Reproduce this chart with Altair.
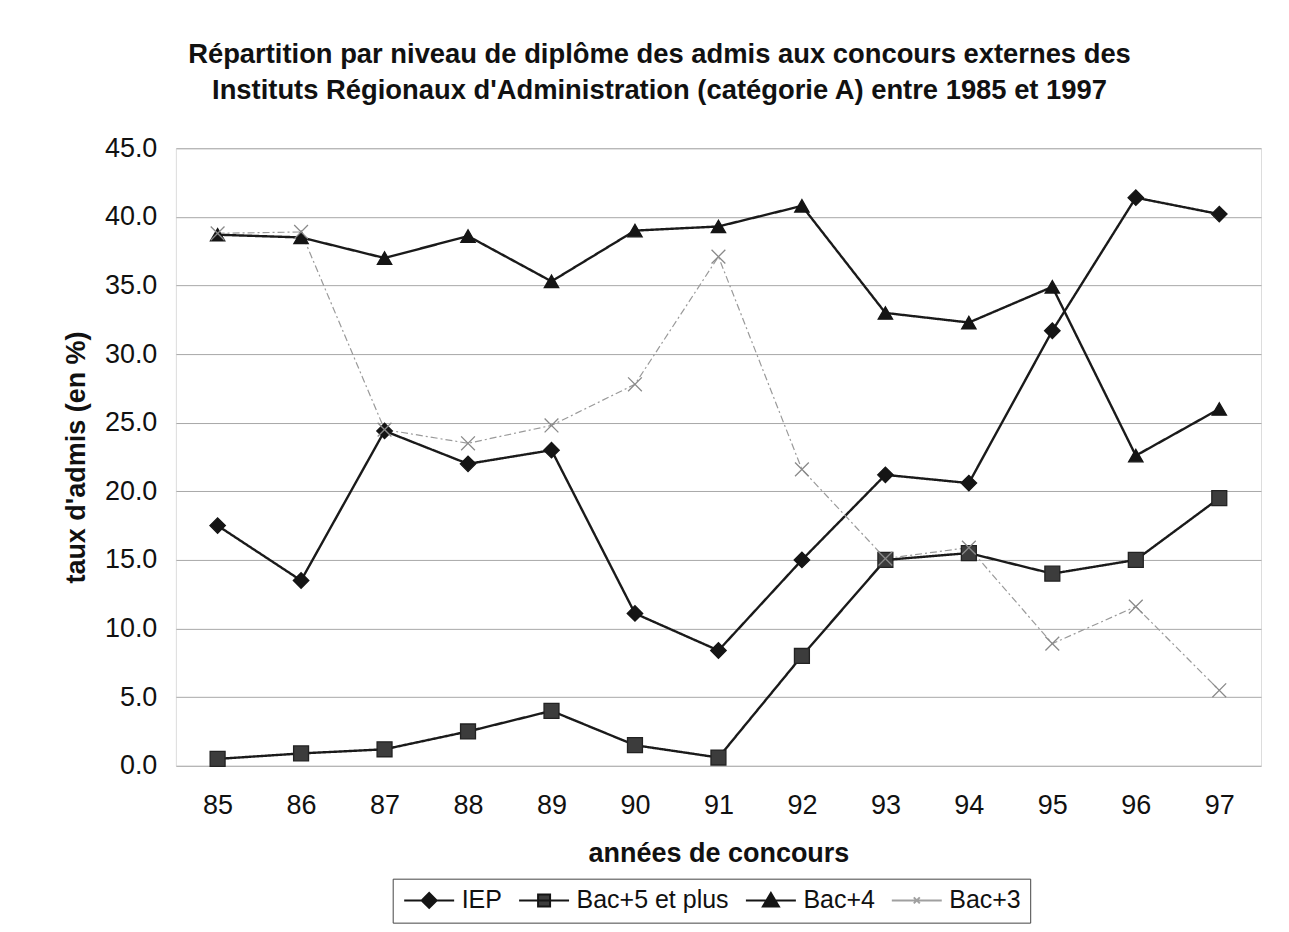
import altair as alt
import pandas as pd

years = ["85", "86", "87", "88", "89", "90", "91", "92", "93", "94", "95", "96", "97"]
series = ["IEP", "Bac+5 et plus", "Bac+4", "Bac+3"]
iep = [17.5, 13.5, 24.4, 22.0, 23.0, 11.1, 8.4, 15.0, 21.2, 20.6, 31.7, 41.4, 40.2]
bac5 = [0.5, 0.9, 1.2, 2.5, 4.0, 1.5, 0.6, 8.0, 15.0, 15.5, 14.0, 15.0, 19.5]
bac4 = [38.7, 38.5, 37.0, 38.6, 35.3, 39.0, 39.3, 40.8, 33.0, 32.3, 34.9, 22.6, 26.0]
bac3 = [38.8, 38.9, 24.5, 23.5, 24.8, 27.8, 37.1, 21.6, 15.1, 15.9, 8.9, 11.6, 5.5]

rows = []
for s, vals in zip(series, [iep, bac5, bac4, bac3]):
    for yr, v in zip(years, vals):
        rows.append({"annee": yr, "serie": s, "taux": v})
df = pd.DataFrame(rows)

FONT = "Liberation Sans"
TXT = "#111111"

x = alt.X(
    "annee:O",
    sort=years,
    title="années de concours",
    scale=alt.Scale(type="point", padding=0.5),
    axis=alt.Axis(labelAngle=0, labelFontSize=27, labelFont=FONT, labelColor=TXT,
                  labelPadding=27, ticks=False, domain=False, grid=False,
                  titleFontSize=27, titleFont=FONT, titleFontWeight="bold",
                  titleColor=TXT, titlePadding=22),
)
y = alt.Y(
    "taux:Q",
    title="taux d'admis (en %)",
    scale=alt.Scale(domain=[0, 45], nice=False),
    axis=alt.Axis(values=[0, 5, 10, 15, 20, 25, 30, 35, 40, 45], format=".1f",
                  labelFontSize=27, labelFont=FONT, labelColor=TXT, labelPadding=19,
                  ticks=False, domain=False, grid=True, gridColor="#a8a8a8",
                  gridWidth=1, titleFontSize=27, titleFont=FONT,
                  titleFontWeight="bold", titleColor=TXT, titlePadding=14),
)

is3 = alt.datum.serie == "Bac+3"
base = alt.Chart(df)

lines = base.mark_line().encode(
    x=x, y=y, detail="serie:N",
    stroke=alt.condition(is3, alt.value("#9a9a9a"), alt.value("#1a1a1a")),
    strokeWidth=alt.condition(is3, alt.value(1.2), alt.value(2.4)),
    strokeDash=alt.condition(is3, alt.value([7, 3, 2, 3]), alt.value([1, 0])),
)

points = base.mark_point(opacity=1, strokeWidth=1.3).encode(
    x=x, y=y,
    shape=alt.Shape("serie:N", legend=None, scale=alt.Scale(
        domain=series,
        range=["diamond", "square", "triangle-up", "M-1,-1L1,1M-1,1L1,-1"])),
    fill=alt.Fill("serie:N", legend=None, scale=alt.Scale(
        domain=series, range=["#151515", "#3c3c3c", "#151515", "transparent"])),
    stroke=alt.Stroke("serie:N", legend=None, scale=alt.Scale(
        domain=series, range=["#151515", "#222222", "#151515", "#8a8a8a"])),
    size=alt.Size("serie:N", legend=None, scale=alt.Scale(
        domain=series, range=[240, 190, 270, 150])),
)

leg_paths = [
    "M-1,0H4M1.5,-0.75L2.25,0L1.5,0.75L0.75,0Z",
    "M-1,0H4M0.9,-0.6H2.1V0.6H0.9Z",
    "M-1,0H4M1.5,-0.75L2.3,0.6H0.7Z",
    "M-1,0H4M1.2,-0.3L1.8,0.3M1.2,0.3L1.8,-0.3",
]


def make_legend():
    return alt.Legend(
        title=None, orient="none", legendX=217, legendY=731, direction="horizontal",
        columns=4, strokeColor="#444444", padding=9, labelFontSize=25,
        labelFont=FONT, labelColor=TXT, symbolSize=400, symbolStrokeWidth=2,
        labelOffset=35, columnPadding=12,
    )


legend_layer = base.transform_filter("false").mark_point(opacity=1).encode(
    x=x, y=y,
    shape=alt.Shape("serie:N", scale=alt.Scale(domain=series, range=leg_paths),
                    legend=make_legend()),
    fill=alt.Fill("serie:N", scale=alt.Scale(
        domain=series, range=["#151515", "#3c3c3c", "#151515", "transparent"]),
        legend=make_legend()),
    stroke=alt.Stroke("serie:N", scale=alt.Scale(
        domain=series, range=["#151515", "#151515", "#151515", "#a0a0a0"]),
        legend=make_legend()),
)

chart = alt.layer(lines, points, legend_layer).resolve_scale(
    shape="independent", fill="independent", stroke="independent", size="independent"
).properties(
    width=1086,
    height=618,
    padding={"left": 168, "top": 140, "right": 20, "bottom": 166},
    autosize=alt.AutoSizeParams(type="none"),
    title=alt.TitleParams(
        text=["Répartition par niveau de diplôme des admis aux concours externes des",
              "Instituts Régionaux d'Administration (catégorie A) entre 1985 et 1997"],
        fontSize=27.4, font=FONT, fontWeight="bold", color=TXT, anchor="middle",
        dx=-59, offset=30, lineHeight=36),
).configure_view(
    stroke="#111111", strokeWidth=2
).configure(background="white")

chart.save("out.html", embed_options={"renderer": "svg", "actions": False})
